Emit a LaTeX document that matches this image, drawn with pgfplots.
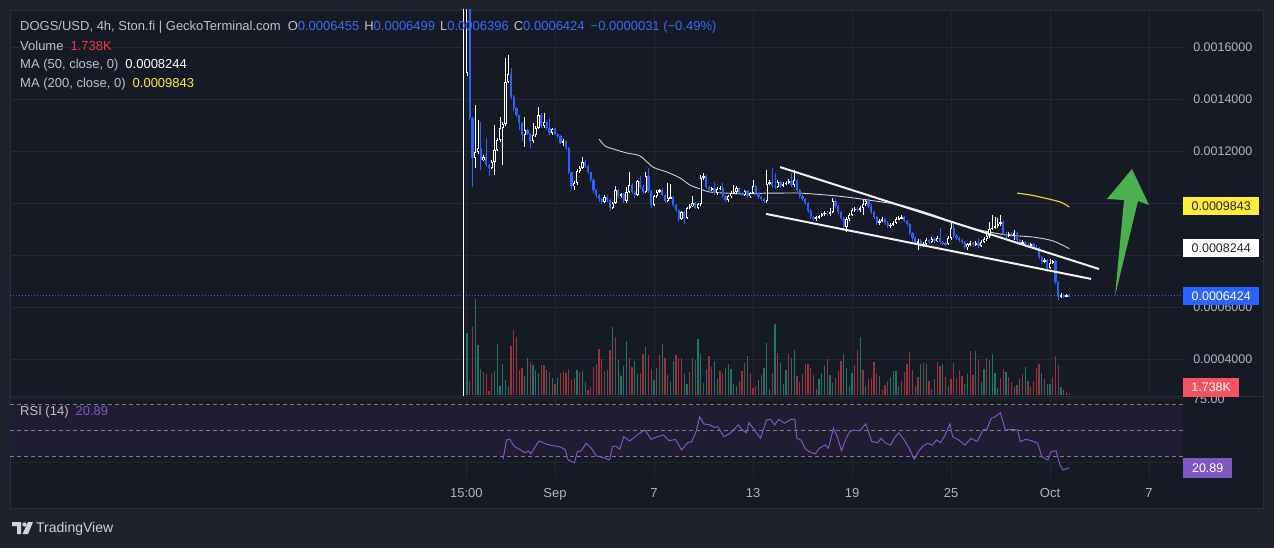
\documentclass[border=0pt]{standalone}
\usepackage{pgfplots}
\pgfplotsset{compat=1.18}
\usepackage{pgfplotstable}
\usepackage{fontspec}
\setmainfont{Liberation Sans}

\definecolor{outerbg}{HTML}{1E222D}
\definecolor{innerbg}{HTML}{161A25}
\definecolor{gridc}{HTML}{232735}
\definecolor{sepc}{HTML}{2A2E39}
\definecolor{tgray}{HTML}{B2B5BE}
\definecolor{hgray}{HTML}{BFC2CA}
\definecolor{cblue}{HTML}{2962FF}
\definecolor{vblue}{HTML}{3A6CF4}
\definecolor{volg}{HTML}{1F7566}
\definecolor{volr}{HTML}{99343F}
\definecolor{volt}{HTML}{F23645}
\definecolor{rsip}{HTML}{7E57C2}
\definecolor{rsiband}{HTML}{201D33}
\definecolor{dashc}{HTML}{7B7E88}
\definecolor{ma50c}{HTML}{D0D2D8}
\definecolor{ma200c}{HTML}{E5CF2A}
\definecolor{tagy}{HTML}{FFEB3B}
\definecolor{tagr}{HTML}{F7525F}
\definecolor{arrowg}{HTML}{4CAF50}
\definecolor{logoc}{HTML}{D1D4DC}

\newcommand{\hdr}{\fontsize{13}{15}\selectfont}
\newcommand{\tagf}{\fontsize{12.5}{14}\selectfont}

\pgfplotsset{
  pane/.style={at={(10pt,-395pt)}, anchor=south west, scale only axis,
    width=1173pt, height=385pt, xmin=-33.03, xmax=38.06,
    axis line style={draw=none}, tick style={draw=none}, clip mode=individual},
  candle/.style 2 args={only marks, mark=*, mark size=0pt,
    mark options={draw=none, fill=none},
    error bars/.cd, y dir=both, y explicit, error mark=none,
    error bar style={draw=#1, line width=#2}},
}

% prices in units of 1e-4 USD (0.0001); volume in K; i = 4h candle index
% u = 1 up candle (white), 0 down candle (blue); g = 1 green volume, 0 red
\pgfplotstableread{
i o h l c u v g
0 2.00 18.00 2.00 18.00 1 58 1
1 15.00 18.00 14.90 18.00 1 62 1
2 18.00 18.00 13.20 13.27 0 14 0
3 13.27 13.30 10.62 11.73 0 68 0
4 11.73 13.77 11.35 11.96 1 96 1
5 11.96 13.19 11.90 12.12 1 50 1
6 12.12 13.12 11.27 11.65 0 26 1
7 11.65 11.85 11.60 11.77 1 23 0
8 11.77 12.50 11.40 11.46 0 21 0
9 11.46 11.50 11.04 11.35 0 4 0
10 11.35 11.65 11.30 11.58 1 21 0
11 11.58 13.00 11.08 12.04 1 24 1
12 12.04 12.50 12.00 12.42 1 51 1
13 12.42 13.31 12.35 12.88 1 9 1
14 12.88 13.10 11.46 13.04 1 31 1
15 13.04 15.58 12.95 14.65 1 15 1
16 14.65 15.69 14.60 14.96 1 9 1
17 14.96 15.19 14.00 14.08 0 49 0
18 14.08 14.15 13.55 13.65 0 65 0
19 13.65 13.70 13.30 13.38 0 58 0
20 13.38 13.40 12.81 13.08 0 25 0
21 13.08 13.10 12.38 12.62 0 27 0
22 12.62 13.31 12.15 12.81 1 19 1
23 12.81 12.85 12.60 12.65 0 37 1
24 12.65 12.70 12.12 12.38 0 33 0
25 12.38 13.08 12.30 12.62 1 30 1
26 12.62 12.95 12.55 12.88 1 25 1
27 12.88 13.69 12.85 13.38 1 22 1
28 13.38 13.45 12.90 12.96 0 30 0
29 12.96 13.46 12.90 13.12 1 30 0
30 13.12 13.15 12.80 12.88 0 25 1
31 12.88 13.27 12.60 12.69 0 23 0
32 12.69 12.90 12.62 12.85 1 17 1
33 12.85 12.90 12.58 12.65 0 11 0
34 12.65 12.70 12.50 12.58 0 17 1
35 12.58 12.60 12.25 12.31 0 22 0
36 12.31 12.45 12.20 12.38 1 24 0
37 12.38 12.40 12.05 12.12 0 22 0
38 12.12 12.15 11.10 11.19 0 26 0
39 11.19 11.20 10.55 10.65 0 15 0
40 10.65 10.85 10.50 10.77 1 17 0
41 10.77 11.30 10.70 11.23 1 25 1
42 11.23 11.42 11.15 11.35 1 23 0
43 11.35 11.77 11.30 11.58 1 24 1
44 11.58 11.65 11.35 11.42 0 13 1
45 11.42 11.45 11.10 11.19 0 5 0
46 11.19 11.20 10.80 10.88 0 8 0
47 10.88 10.95 10.40 10.50 0 28 0
48 10.50 10.55 10.20 10.31 0 31 0
49 10.31 10.35 10.05 10.15 0 46 0
50 10.15 10.20 9.95 10.04 0 36 0
51 10.04 10.30 10.00 10.23 1 24 0
52 10.23 10.30 10.05 10.12 0 25 1
53 10.12 10.15 9.69 9.81 0 45 0
54 9.81 10.05 9.75 10.00 1 68 1
55 10.00 10.65 9.95 10.50 1 58 0
56 10.50 10.55 10.20 10.27 0 35 1
57 10.27 10.40 10.20 10.35 1 19 1
58 10.35 10.40 10.00 10.08 0 29 1
59 10.08 10.62 10.00 10.42 1 54 1
60 10.42 11.19 10.40 10.69 1 37 0
61 10.69 10.75 10.35 10.42 0 28 0
62 10.42 10.45 10.20 10.31 0 34 1
63 10.31 10.90 10.27 10.85 1 21 1
64 10.85 11.04 10.55 10.62 0 22 0
65 10.62 10.70 10.35 10.42 0 41 0
66 10.42 11.19 10.40 11.04 1 48 1
67 11.04 11.35 10.40 10.46 0 40 0
68 10.46 10.50 9.81 9.92 0 26 0
69 9.92 10.30 9.90 10.27 1 15 1
70 10.27 10.50 10.20 10.42 1 27 1
71 10.42 10.55 10.38 10.50 1 40 0
72 10.50 10.55 10.25 10.31 0 51 1
73 10.31 10.35 10.00 10.08 0 37 0
74 10.08 10.77 10.05 10.19 1 20 0
75 10.19 10.73 10.15 10.23 1 13 1
76 10.23 10.25 9.85 9.92 0 34 1
77 9.92 9.95 9.65 9.73 0 40 0
78 9.73 9.75 9.27 9.38 0 37 0
79 9.38 9.70 9.35 9.65 1 37 0
80 9.65 9.70 9.19 9.42 0 21 1
81 9.42 9.85 9.40 9.81 1 11 1
82 9.81 9.95 9.75 9.88 1 23 0
83 9.88 10.27 9.85 10.00 1 37 1
84 10.00 10.05 9.75 9.81 0 35 0
85 9.81 10.00 9.75 9.96 1 56 1
86 9.96 11.08 9.90 10.96 1 41 1
87 10.96 11.15 10.90 11.04 1 12 0
88 11.04 11.08 10.55 10.62 0 26 1
89 10.62 10.65 10.40 10.50 0 39 0
90 10.50 10.62 10.45 10.58 1 28 0
91 10.58 10.81 10.30 10.38 0 34 1
92 10.38 10.60 10.30 10.54 1 16 1
93 10.54 10.65 10.50 10.58 1 24 0
94 10.58 10.77 10.20 10.27 0 22 0
95 10.27 10.30 10.05 10.12 0 27 1
96 10.12 10.30 10.05 10.27 1 31 1
97 10.27 10.45 10.20 10.38 1 26 1
98 10.38 10.69 10.35 10.42 1 11 1
99 10.42 10.65 10.35 10.58 1 9 1
100 10.58 10.60 10.30 10.38 0 14 0
101 10.38 10.42 10.25 10.31 0 24 0
102 10.31 10.50 10.25 10.46 1 32 0
103 10.46 10.50 10.20 10.27 0 39 1
104 10.27 10.42 10.20 10.38 1 22 0
105 10.38 10.88 10.35 10.65 1 7 0
106 10.65 10.70 10.30 10.38 0 9 0
107 10.38 10.42 10.15 10.23 0 15 1
108 10.23 10.27 10.08 10.15 0 20 0
109 10.15 10.20 10.00 10.08 0 27 1
110 10.08 11.27 10.00 10.73 1 52 1
111 10.73 10.88 10.70 10.81 1 6 1
112 10.81 11.35 10.58 10.65 0 22 0
113 10.65 11.15 10.55 10.62 0 71 1
114 10.62 10.88 10.58 10.81 1 42 0
115 10.81 10.85 10.58 10.65 0 32 1
116 10.65 10.80 10.60 10.73 1 11 1
117 10.73 10.85 10.70 10.77 1 25 1
118 10.77 10.92 10.73 10.85 1 41 0
119 10.85 11.15 10.62 10.69 0 37 1
120 10.69 11.27 10.62 10.88 1 45 1
121 10.88 10.92 10.42 10.50 0 19 0
122 10.50 10.55 10.20 10.27 0 13 0
123 10.27 10.30 10.08 10.15 0 21 0
124 10.15 10.20 9.92 10.00 0 31 0
125 10.00 10.05 9.60 9.69 0 31 0
126 9.69 9.75 9.38 9.46 0 27 0
127 9.46 9.50 9.30 9.38 0 20 0
128 9.38 9.50 9.30 9.46 1 6 0
129 9.46 9.55 9.40 9.50 1 16 1
130 9.50 9.62 9.45 9.58 1 22 1
131 9.58 9.70 9.50 9.62 1 29 1
132 9.62 9.70 9.50 9.58 0 36 0
133 9.58 9.81 9.50 9.65 1 20 1
134 9.65 10.19 9.60 10.08 1 12 1
135 10.08 10.15 9.80 9.88 0 17 0
136 9.88 9.92 9.58 9.65 0 24 0
137 9.65 9.70 9.35 9.42 0 34 0
138 9.42 9.45 8.96 9.08 0 41 1
139 9.08 9.45 8.88 9.38 1 27 1
140 9.38 9.60 9.30 9.54 1 9 1
141 9.54 9.80 9.50 9.73 1 22 1
142 9.73 9.85 9.65 9.77 1 30 0
143 9.77 9.85 9.65 9.73 0 45 0
144 9.73 9.88 9.65 9.81 1 58 1
145 9.81 10.12 9.54 9.96 1 25 0
146 9.96 10.15 9.90 10.08 1 9 1
147 10.08 10.19 9.80 9.88 0 16 0
148 9.88 9.95 9.58 9.65 0 17 0
149 9.65 9.70 9.38 9.46 0 33 0
150 9.46 9.50 9.15 9.23 0 21 0
151 9.23 9.38 9.15 9.31 1 19 1
152 9.31 9.45 9.25 9.38 1 5 0
153 9.38 9.42 9.15 9.23 0 10 0
154 9.23 9.30 9.05 9.12 0 14 0
155 9.12 9.22 9.05 9.15 1 18 1
156 9.15 9.30 9.10 9.23 1 24 1
157 9.23 9.45 9.18 9.38 1 24 1
158 9.38 9.50 9.35 9.42 1 9 1
159 9.42 9.55 9.38 9.46 1 14 0
160 9.46 9.50 9.25 9.31 0 23 0
161 9.31 9.35 9.10 9.19 0 31 0
162 9.19 9.22 8.75 8.85 0 43 0
163 8.85 8.90 8.55 8.65 0 25 0
164 8.65 8.70 8.38 8.46 0 9 1
165 8.46 8.60 8.19 8.54 1 18 0
166 8.54 8.60 8.27 8.35 0 31 1
167 8.35 8.50 8.30 8.42 1 32 0
168 8.42 8.65 8.38 8.58 1 31 1
169 8.58 8.62 8.42 8.50 0 14 0
170 8.50 8.70 8.45 8.62 1 6 0
171 8.62 8.68 8.46 8.54 0 16 1
172 8.54 8.72 8.50 8.65 1 33 0
173 8.65 9.04 8.42 8.50 0 29 0
174 8.50 8.55 8.40 8.46 0 31 1
175 8.46 8.50 8.35 8.42 0 18 0
176 8.42 8.72 8.38 8.65 1 9 1
177 8.65 9.23 8.58 9.04 1 16 0
178 9.04 9.19 8.65 8.73 0 32 0
179 8.73 8.80 8.58 8.65 0 17 0
180 8.65 8.70 8.50 8.58 0 25 0
181 8.58 8.62 8.42 8.50 0 19 0
182 8.50 8.55 8.22 8.31 0 11 1
183 8.31 8.48 8.19 8.42 1 21 1
184 8.42 8.52 8.35 8.46 1 44 0
185 8.46 8.50 8.30 8.38 0 20 0
186 8.38 8.52 8.33 8.46 1 44 1
187 8.46 8.65 8.28 8.35 0 36 0
188 8.35 8.56 8.30 8.50 1 13 1
189 8.50 8.68 8.45 8.62 1 26 1
190 8.62 8.80 8.55 8.73 1 37 0
191 8.73 9.27 8.65 9.00 1 35 1
192 9.00 9.54 8.95 9.04 1 41 1
193 9.04 9.46 9.00 9.12 1 22 1
194 9.12 9.42 9.05 9.19 1 7 1
195 9.19 9.54 9.12 9.27 1 17 0
196 9.27 9.35 8.75 8.81 0 26 0
197 8.81 8.88 8.65 8.73 0 23 1
198 8.73 8.88 8.68 8.81 1 18 0
199 8.81 8.88 8.70 8.77 0 13 0
200 8.77 8.96 8.58 8.85 1 8 1
201 8.85 8.90 8.50 8.58 0 10 0
202 8.58 8.62 8.40 8.46 0 16 1
203 8.46 8.56 8.40 8.50 1 21 0
204 8.50 8.55 8.32 8.38 0 28 1
205 8.38 8.45 8.28 8.35 0 14 0
206 8.35 8.48 8.30 8.42 1 8 0
207 8.42 8.46 8.25 8.31 0 14 0
208 8.31 8.38 8.20 8.27 0 27 0
209 8.27 8.30 7.85 7.92 0 31 0
210 7.92 7.95 7.65 7.73 0 22 1
211 7.73 7.88 7.68 7.81 1 16 0
212 7.81 7.85 7.35 7.50 0 11 1
213 7.50 7.85 7.45 7.69 1 11 1
214 7.69 7.82 7.65 7.77 1 18 0
215 7.77 7.80 6.90 6.96 0 39 0
216 6.96 7.00 6.27 6.38 0 30 0
217 6.38 6.52 6.33 6.46 1 8 1
218 6.46 6.50 6.36 6.42 0 5 1
219 6.42 6.50 6.38 6.455 1 3 0
220 6.455 6.499 6.396 6.424 0 1.738 0
}\candles

\begin{document}
\begin{tikzpicture}
\useasboundingbox (0,0) rectangle (1274pt,-548pt);
\begin{scope}[x=1pt,y=-1pt]
  \fill[outerbg] (0,0) rectangle (1274,548);
  \fill[innerbg] (10,10) rectangle (1263,508);
  \draw[sepc, line width=0.8pt] (10,10) rectangle (1263,508);
\end{scope}

% ---------- volume (with price grid) ----------
\begin{axis}[pane, ymin=0, ymax=385,
  xtick={-5.375,0,6,12,18,24,30,36}, ytick={36,88,140,192,244,296,348},
  xticklabels={}, yticklabels={},
  grid=major, grid style={gridc, line width=0.9pt}]
\addplot[ycomb, volg, line width=1.3pt, mark=none]
  table[x expr=\thisrow{i}/6-5.5, y expr={\thisrow{g}>0.5 ? \thisrow{v} : 0}] {\candles};
\addplot[ycomb, volr, line width=1.3pt, mark=none]
  table[x expr=\thisrow{i}/6-5.5, y expr={\thisrow{g}<0.5 ? \thisrow{v} : 0}] {\candles};
\end{axis}

% ---------- price ----------
\begin{axis}[pane, ymin=2.615, ymax=17.423,
  xtick=\empty, ytick={4,6,12,14,16},
  yticklabels={0.0004000,0.0006000,0.0012000,0.0014000,0.0016000},
  yticklabel pos=right,
  yticklabel style={text=tgray, font=\tagf, anchor=west, inner sep=0pt, xshift=10pt}]
% last price line
\draw[cblue, line width=1pt, dash pattern=on 1pt off 2pt] (axis cs:-33.03,6.424) -- (axis cs:38.06,6.424);
% MA 50
\addplot[ma50c, line width=0.9pt, smooth] coordinates {
(2.67,12.46) (3.03,12.19) (3.52,12.08) (4.36,11.92) (5.15,11.81) (5.94,11.38)
(6.79,11.19) (7.58,10.96) (8.18,10.69) (8.79,10.54) (9.39,10.42) (10.42,10.38)
(11.39,10.35) (12.85,10.38) (13.64,10.38) (14.85,10.38) (17.09,10.27) (18.91,10.12)
(20.91,9.92) (22.55,9.62) (24.12,9.27) (25.76,8.96) (27.39,8.77) (28.97,8.69)
(30.18,8.54) (31.17,8.244)};
% MA 200
\addplot[ma200c, line width=1.2pt, smooth] coordinates {
(28.0,10.38) (28.79,10.31) (29.39,10.23) (30.61,10.04) (31.17,9.843)};
% candles: wicks (up / down), bodies; the other kind is sent far above the pane
\addplot[candle={white}{0.9pt}]
  table[x expr=\thisrow{i}/6-5.5,
        y expr={\thisrow{u}>0.5 ? (\thisrow{h}+\thisrow{l})/2 : 60},
        y error expr={\thisrow{u}>0.5 ? (\thisrow{h}-\thisrow{l})/2 : 0}] {\candles};
\addplot[candle={cblue}{0.9pt}]
  table[x expr=\thisrow{i}/6-5.5,
        y expr={\thisrow{u}<0.5 ? (\thisrow{h}+\thisrow{l})/2 : 60},
        y error expr={\thisrow{u}<0.5 ? (\thisrow{h}-\thisrow{l})/2 : 0}] {\candles};
\addplot[candle={white}{2.2pt}]
  table[x expr=\thisrow{i}/6-5.5,
        y expr={\thisrow{u}>0.5 ? (\thisrow{o}+\thisrow{c})/2 : 60},
        y error expr={\thisrow{u}>0.5 ? max(abs(\thisrow{c}-\thisrow{o})/2,0.02) : 0}] {\candles};
\addplot[candle={innerbg}{0.7pt}]
  table[x expr=\thisrow{i}/6-5.5,
        y expr={\thisrow{u}>0.5 ? (\thisrow{o}+\thisrow{c})/2 : 60},
        y error expr={\thisrow{u}>0.5 ? max(abs(\thisrow{c}-\thisrow{o})/2-0.04,0) : 0}] {\candles};
\addplot[candle={cblue}{2.2pt}]
  table[x expr=\thisrow{i}/6-5.5,
        y expr={\thisrow{u}<0.5 ? (\thisrow{o}+\thisrow{c})/2 : 60},
        y error expr={\thisrow{u}<0.5 ? max(abs(\thisrow{c}-\thisrow{o})/2,0.02) : 0}] {\candles};
% trend lines (falling wedge)
\draw[white!94!black, line width=2pt] (axis cs:13.64,11.38) -- (axis cs:32.97,7.46);
\draw[white!94!black, line width=2pt] (axis cs:12.79,9.58) -- (axis cs:32.48,7.08);
\end{axis}

% ---------- RSI ----------
\begin{axis}[pane, at={(10pt,-478pt)}, height=80pt, ymin=12.85, ymax=75.22,
  xtick={-5.375,0,6,12,18,24,30,36},
  xticklabels={15:00,Sep,7,13,19,25,Oct,7},
  xticklabel style={text=tgray, font=\hdr, anchor=base, yshift=-19pt},
  ytick={25,75}, yticklabels={},
  grid=major, grid style={gridc, line width=0.9pt}]
\fill[rsiband] (axis cs:-33.03,30) rectangle (axis cs:38.06,70);
\draw[dashc, line width=0.8pt, dash pattern=on 4pt off 3pt] (axis cs:-33.03,70) -- (axis cs:38.06,70);
\draw[dashc, line width=0.8pt, dash pattern=on 4pt off 3pt] (axis cs:-33.03,50) -- (axis cs:38.06,50);
\draw[dashc, line width=0.8pt, dash pattern=on 4pt off 3pt] (axis cs:-33.03,30) -- (axis cs:38.06,30);
\addplot[rsip, line width=1pt] coordinates {
(-3.15,27.4) (-2.94,42.5) (-2.75,43.0) (-2.45,37.3) (-2.08,34.7) (-1.84,32.6)
(-1.59,33.9) (-1.47,31.6) (-0.98,41.7) (-0.49,39.1) (-0.12,38.0) (0.24,37.3)
(0.61,35.2) (0.79,26.9) (1.18,24.8) (1.35,33.4) (1.59,33.9) (1.88,39.9)
(2.21,36.0) (2.50,30.0) (2.94,28.7) (3.31,26.9) (3.48,37.3) (3.68,37.8)
(3.92,35.2) (4.16,45.0) (4.53,41.7) (5.09,47.5) (5.45,50.3) (5.83,43.0)
(6.19,45.0) (6.56,46.4) (6.93,41.9) (7.30,43.0) (7.67,34.7) (8.04,40.4)
(8.28,41.2) (8.53,48.2) (8.77,60.6) (9.02,55.0) (9.38,54.2) (9.63,52.4)
(9.87,52.8) (10.24,45.0) (10.61,47.7) (10.85,50.8) (11.10,54.2) (11.35,50.3)
(11.59,48.2) (11.76,56.0) (12.08,50.3) (12.45,43.8) (12.82,58.1) (13.06,58.6)
(13.31,54.2) (13.55,58.6) (13.92,55.5) (14.29,58.6) (14.53,58.6) (14.66,43.8)
(14.90,42.5) (15.15,36.0) (15.39,33.4) (15.76,31.6) (16.01,36.0) (16.38,38.6)
(16.57,36.0) (16.87,51.6) (17.11,45.0) (17.36,34.1) (17.60,42.5) (17.85,48.9)
(18.09,50.3) (18.46,49.7) (18.83,55.0) (19.20,41.2) (19.56,40.4) (19.76,43.8)
(20.06,39.9) (20.35,38.6) (20.55,43.8) (20.84,48.2) (21.16,42.5) (21.41,37.3)
(21.77,27.4) (22.02,33.4) (22.26,37.3) (22.56,39.9) (22.87,38.6) (23.12,42.5)
(23.36,40.4) (23.61,45.6) (23.93,55.0) (24.10,45.0) (24.47,42.5) (24.84,38.6)
(25.21,43.8) (25.57,41.2) (25.94,50.3) (26.18,50.8) (26.43,59.4) (26.68,60.6)
(26.99,63.8) (27.29,50.3) (27.66,50.8) (28.02,50.3) (28.20,41.2) (28.52,43.0)
(28.88,41.9) (29.25,39.9) (29.50,29.5) (29.87,26.9) (30.06,33.4) (30.36,34.1)
(30.60,23.0) (30.79,19.1) (31.17,20.89)};
\end{axis}

% ---------- annotations, legend text, tags ----------
\begin{scope}[x=1pt,y=-1pt]
  \draw[sepc, line width=1pt] (10,396.5) -- (1263,396.5);
  % green arrow
  \fill[arrowg] (1115,296) -- (1124,200) -- (1107,199) -- (1132,169) -- (1149,205) -- (1138,201) -- cycle;
  % header
  \node[anchor=west, inner sep=0, text=hgray, font=\hdr] at (20,27)
    {DOGS/USD, 4h, Ston.fi | GeckoTerminal.com\hspace{7pt}O\textcolor{vblue}{0.0006455}\hspace{5pt}H\textcolor{vblue}{0.0006499}\hspace{5pt}L\textcolor{vblue}{0.0006396}\hspace{5pt}C\textcolor{vblue}{0.0006424}\hspace{6pt}\textcolor{vblue}{−0.0000031 (−0.49\%)}};
  \node[anchor=west, inner sep=0, text=hgray, font=\hdr] at (20,46)
    {Volume\hspace{7pt}\textcolor{volt}{1.738K}};
  \node[anchor=west, inner sep=0, text=hgray, font=\hdr] at (20,65)
    {MA (50, close, 0)\hspace{7pt}\textcolor{white}{0.0008244}};
  \node[anchor=west, inner sep=0, text=hgray, font=\hdr] at (20,84)
    {MA (200, close, 0)\hspace{7pt}\textcolor{tagy}{0.0009843}};
  \node[anchor=west, inner sep=0, text=hgray, font=\hdr] at (20,412)
    {RSI (14)\hspace{7pt}\textcolor{rsip}{20.89}};
  % right-hand tags
  \node[anchor=west, inner sep=0, text=tgray, font=\tagf] at (1193,399) {75.00};
  \node[anchor=west, inner sep=0, minimum width=76pt, minimum height=18pt, fill=tagy, text=black!85, font=\tagf] at (1183,206) {0.0009843};
  \node[anchor=west, inner sep=0, minimum width=76pt, minimum height=18pt, fill=white, text=black!85, font=\tagf] at (1183,248) {0.0008244};
  \node[anchor=west, inner sep=0, minimum width=76pt, minimum height=18pt, fill=cblue, text=white, font=\tagf] at (1183,296) {0.0006424};
  \node[anchor=west, inner sep=0, minimum width=56pt, minimum height=19pt, fill=tagr, text=white, font=\tagf] at (1183,387) {1.738K};
  \node[anchor=west, inner sep=0, minimum width=49pt, minimum height=20pt, fill=rsip, text=white, font=\tagf] at (1183,468) {20.89};
  % TradingView logo
  \fill[logoc] (12,522) -- (21,522) -- (21,534) -- (17,534) -- (17,526) -- (12,526) -- cycle;
  \fill[logoc] (24.5,524.5) circle (2.2);
  \fill[logoc] (28,522) -- (33,522) -- (28,534) -- (22.5,534) -- cycle;
  \node[anchor=west, inner sep=0, text=logoc, font=\fontsize{14}{16}\selectfont] at (36,528.5) {TradingView};
\end{scope}
\end{tikzpicture}
\end{document}
